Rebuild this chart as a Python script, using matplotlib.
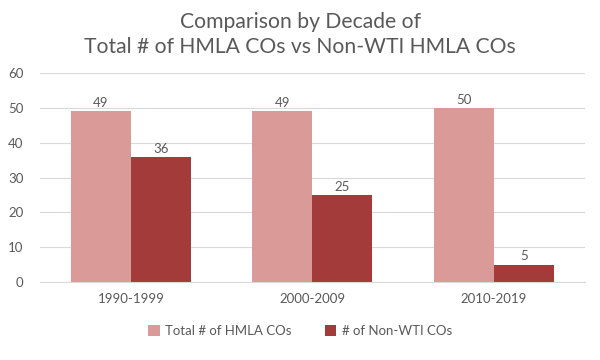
import numpy as np
import matplotlib.pyplot as plt

decades = ['1990-1999', '2000-2009', '2010-2019']
total_cos = [49, 49, 50]
non_wti_cos = [36, 25, 5]

light = '#D99A98'
dark = '#A23B39'
grey = '#595959'

plt.rcParams['font.family'] = ['Lato', 'DejaVu Sans']

fig = plt.figure(figsize=(6, 3.6), dpi=100)
ax = fig.add_axes([0.0667, 0.2167, 0.908, 0.58])

x = np.arange(len(decades))
w = 0.33
b1 = ax.bar(x - w / 2, total_cos, w, color=light, label='Total # of HMLA COs', zorder=2)
b2 = ax.bar(x + w / 2, non_wti_cos, w, color=dark, label='# of Non-WTI COs', zorder=2)

for bars in (b1, b2):
    for r in bars:
        ax.text(r.get_x() + r.get_width() / 2, r.get_height() + 0.6, str(int(r.get_height())),
                ha='center', va='bottom', fontsize=9.5, color=grey)

ax.set_xlim(-0.5, 2.5)
ax.set_ylim(0, 60)
ax.set_yticks(range(0, 61, 10))
ax.set_xticks(x)
ax.set_xticklabels(decades)
ax.grid(axis='y', color='#D9D9D9', linewidth=0.8, zorder=0)
for s in ['top', 'right', 'left']:
    ax.spines[s].set_visible(False)
ax.spines['bottom'].set_color('#D9D9D9')
ax.tick_params(length=0, colors=grey, labelsize=9.5)
ax.tick_params(axis='x', pad=8)
ax.tick_params(axis='y', pad=12)

fig.text(0.5, 0.94, 'Comparison by Decade of', ha='center', va='center', fontsize=15.2, color=grey)
fig.text(0.5, 0.87, 'Total # of HMLA COs vs Non-WTI HMLA COs', ha='center', va='center', fontsize=15.2, color=grey)

fig.legend(loc='center', bbox_to_anchor=(0.5, 0.08), ncol=2, frameon=False, fontsize=9.5,
           handlelength=0.9, handleheight=0.9, handletextpad=0.4, columnspacing=2.5,
           labelcolor=grey)

fig.savefig('out.png', dpi=100)
